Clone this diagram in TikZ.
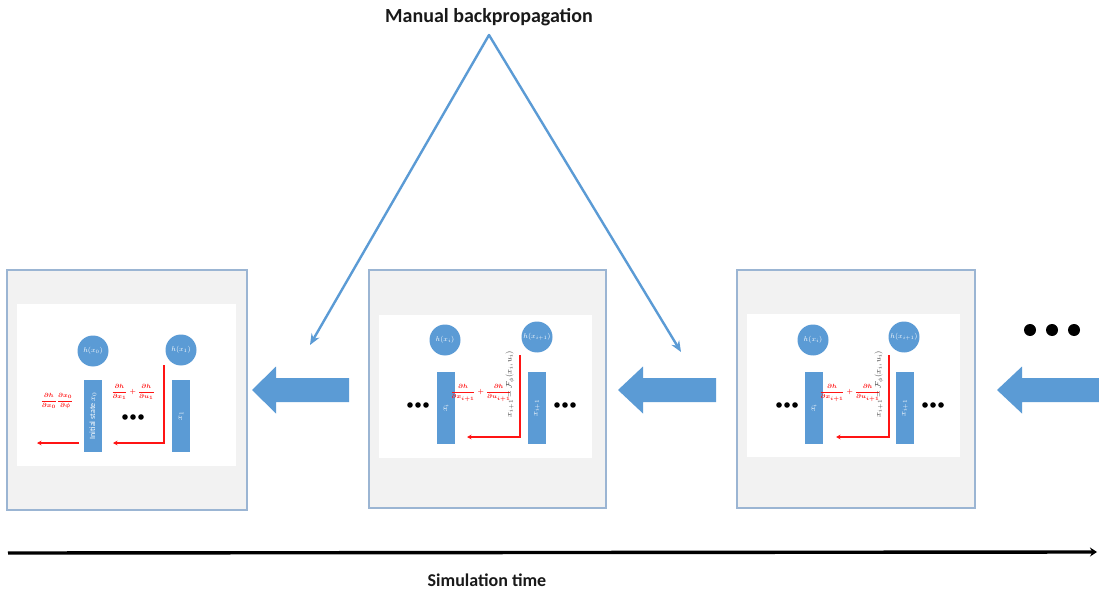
\documentclass[tikz,border=0pt]{standalone}
\usepackage{fontspec}
\setmainfont{Carlito}
\usetikzlibrary{arrows.meta}
\definecolor{sblue}{RGB}{91,155,213}
\definecolor{pborder}{RGB}{155,181,211}
\definecolor{pgray}{RGB}{242,242,242}
\definecolor{dred}{RGB}{255,20,20}
\tikzset{
  panel/.style={draw=pborder, fill=pgray, line width=1.3pt},
  innerbox/.style={fill=white, draw=none},
  hcirc/.style={circle, fill=sblue, minimum size=31pt, inner sep=0pt, text=white, font=\fontsize{7}{8}\selectfont},
  statebox/.style={rectangle, fill=sblue, rotate=90, minimum width=72pt, minimum height=18pt, inner sep=0pt, text=white, font=\fontsize{8}{9}\selectfont},
  redarrow/.style={draw=dred, line width=1.4pt, -{Stealth[length=4.5pt,width=4.5pt]}},
  gradlabel/.style={text=dred, font=\fontsize{6}{7}\selectfont\boldmath, inner sep=0pt},
  eqlabel/.style={text=black!75, rotate=90, font=\fontsize{8}{9}\selectfont, inner sep=0pt},
  thinarrow/.style={draw=sblue, line width=2.4pt, -{Stealth[length=11pt,width=9pt]}},
  blockarrow/.style={fill=sblue, draw=none},
  dotsmall/.style={fill=black},
  title/.style={font=\fontsize{20}{24}\selectfont\bfseries, text=black!90},
}
\newcommand{\rowdots}[3]{% x, y, r
  \fill[dotsmall] (#1-8,#2) circle (#3);
  \fill[dotsmall] (#1,#2) circle (#3);
  \fill[dotsmall] (#1+8,#2) circle (#3);}
\newcommand{\blockarr}[4]{% tip x, head base x, tail x, y
  \fill[blockarrow] (#1,#4) -- (#2,#4-23.5) -- (#2,#4-12) -- (#3,#4-12) -- (#3,#4+12) -- (#2,#4+12) -- (#2,#4+23.5) -- cycle;}
\begin{document}
\begin{tikzpicture}[x=1pt,y=-1pt]
\useasboundingbox (0,0) rectangle (1099,593);
\fill[white] (0,0) rectangle (1099,593);

% title and lines
\node[title] (title) at (489,17) {Manual backpropagation};
\coordinate (apex) at (489,35);
\coordinate (leftend) at (310,345);
\coordinate (rightend) at (681,352);
\draw[thinarrow, line cap=round] (apex) -- (leftend);
\draw[thinarrow, line cap=round] (apex) -- (rightend);

% ---------- panel 1 ----------
\draw[panel] (7,270) rectangle (247,510);
\fill[innerbox] (17,304) rectangle (236,466);
\node[hcirc] (h0) at (93,351) {$h(x_0)$};
\node[hcirc] (h1) at (181,350) {$h(x_1)$};
\node[statebox] (s0) at (93,416) {Initial state $x_0$};
\node[statebox] (s1) at (181,416) {$x_1$};
\coordinate (p1a) at (164,365);
\coordinate (p1b) at (164,443);
\coordinate (p1c) at (113,443);
\draw[redarrow] (p1a) -- (p1b) -- (p1c);
\coordinate (p1d) at (79,443);
\coordinate (p1e) at (37,443);
\draw[redarrow] (p1d) -- (p1e);
\node[gradlabel] (g0) at (57,401) {$\displaystyle\frac{\partial h}{\partial x_0}\frac{\partial x_0}{\partial \phi}$};
\node[gradlabel] (g1) at (133,392) {$\displaystyle\frac{\partial h}{\partial x_1}+\frac{\partial h}{\partial u_1}$};
\rowdots{133}{417}{2.8}

% arrow 1
\blockarr{252}{276}{349}{390}

% ---------- panel 2 ----------
\draw[panel] (369,270) rectangle (606,508);
\fill[innerbox] (379,315) rectangle (592,458);
\node[hcirc] (h2) at (445,340) {$h(x_i)$};
\node[hcirc] (h3) at (537,337) {$h(x_{i+1})$};
\node[statebox] (s2) at (446,408) {$x_i$};
\node[statebox] (s3) at (537,408) {$x_{i+1}$};
\coordinate (p2a) at (520,355);
\coordinate (p2b) at (520,437);
\coordinate (p2c) at (467,437);
\draw[redarrow] (p2a) -- (p2b) -- (p2c);
\node[gradlabel] (g2) at (481,393) {$\displaystyle\frac{\partial h}{\partial x_{i+1}}+\frac{\partial h}{\partial u_{i+1}}$};
\node[eqlabel] (e2) at (510,384) {$x_{i+1}=\mathcal{F}_{\phi}(x_i,u_i)$};
\rowdots{418}{405}{2.8}
\rowdots{565}{405}{2.8}

% arrow 2
\blockarr{618}{643}{716}{390}

% ---------- panel 3 ----------
\draw[panel] (737,270) rectangle (975,508);
\fill[innerbox] (747,314) rectangle (960,457);
\node[hcirc] (h4) at (813,340) {$h(x_i)$};
\node[hcirc] (h5) at (904,337) {$h(x_{i+1})$};
\node[statebox] (s4) at (814,408) {$x_i$};
\node[statebox] (s5) at (905,408) {$x_{i+1}$};
\coordinate (p3a) at (889,355);
\coordinate (p3b) at (889,437);
\coordinate (p3c) at (836,437);
\draw[redarrow] (p3a) -- (p3b) -- (p3c);
\node[gradlabel] (g3) at (850,393) {$\displaystyle\frac{\partial h}{\partial x_{i+1}}+\frac{\partial h}{\partial u_{i+1}}$};
\node[eqlabel] (e3) at (879,384) {$x_{i+1}=\mathcal{F}_{\phi}(x_i,u_i)$};
\rowdots{787}{405}{2.8}
\rowdots{933}{405}{2.8}

% arrow 3 and big dots
\blockarr{997}{1022}{1099}{390}
\fill[dotsmall] (1030,330) circle (6);
\fill[dotsmall] (1052,330) circle (6);
\fill[dotsmall] (1074,330) circle (6);

% time axis
\coordinate (t0) at (8,553);
\coordinate (t1) at (1097,552);
\draw[line width=3.4pt, -{Stealth[length=7pt,width=9pt]}] (t0) -- (t1);
\node[font=\fontsize{18}{22}\selectfont\bfseries, text=black!90] (simtime) at (487,580) {Simulation time};
\end{tikzpicture}
\end{document}
